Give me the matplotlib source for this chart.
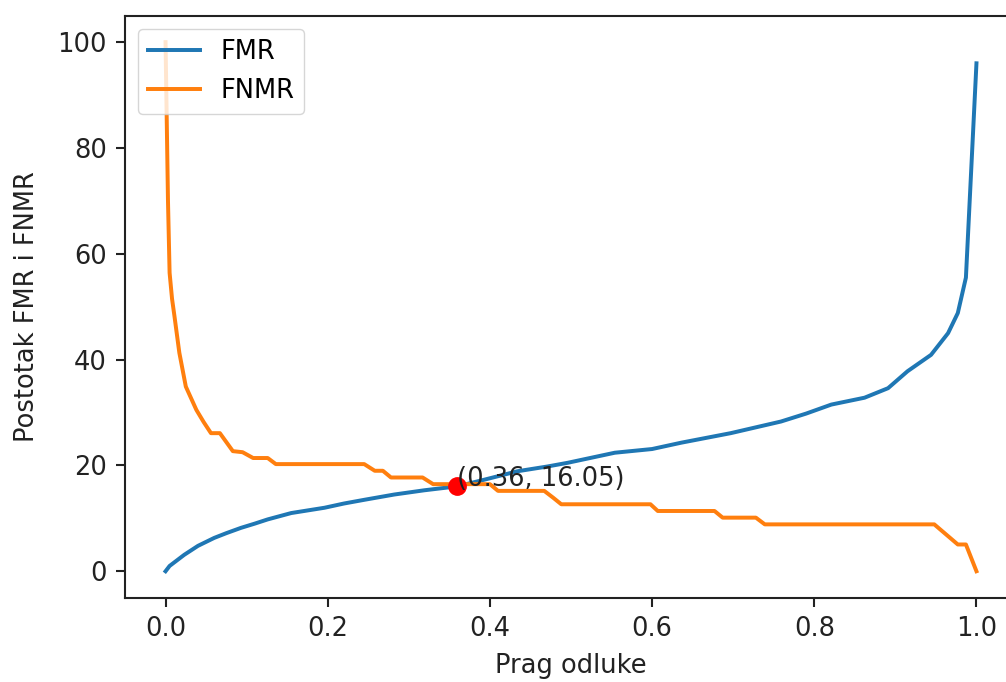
import matplotlib
matplotlib.use("Agg")
import matplotlib.pyplot as plt

# Threshold / FMR breakpoints
fmr_x = [0.0, 0.005, 0.023, 0.04, 0.06, 0.075, 0.093, 0.11, 0.126, 0.155, 0.196,
         0.22, 0.245, 0.282, 0.319, 0.36, 0.393, 0.434, 0.471, 0.496, 0.554, 0.60,
         0.636, 0.697, 0.759, 0.79, 0.821, 0.862, 0.891, 0.915, 0.944, 0.965,
         0.977, 0.987, 1.0]
fmr_y = [0.0, 1.0, 3.1, 4.8, 6.3, 7.2, 8.2, 9.0, 9.8, 11.0, 12.0,
         12.8, 13.5, 14.5, 15.3, 16.05, 17.3, 18.9, 19.8, 20.5, 22.4, 23.1,
         24.3, 26.1, 28.3, 29.8, 31.5, 32.8, 34.6, 37.8, 40.9, 45.0,
         48.8, 55.5, 96.0]

# Threshold / FNMR breakpoints
fnmr_x = [0.0, 0.0015, 0.003, 0.005, 0.008, 0.011, 0.017, 0.025, 0.038, 0.047,
          0.056, 0.067, 0.083, 0.095, 0.108, 0.126, 0.136, 0.245, 0.258, 0.268,
          0.278, 0.317, 0.33, 0.40, 0.41, 0.467, 0.478, 0.488, 0.598, 0.607,
          0.677, 0.687, 0.728, 0.739, 0.948, 0.977, 0.987, 1.0]
fnmr_y = [100.0, 85.0, 70.0, 56.4, 51.5, 48.2, 41.3, 34.9, 30.5, 28.2,
          26.1, 26.1, 22.7, 22.5, 21.4, 21.4, 20.25, 20.25, 18.99, 18.99,
          17.72, 17.72, 16.46, 16.46, 15.19, 15.19, 13.9, 12.66, 12.66, 11.39,
          11.39, 10.13, 10.13, 8.86, 8.86, 5.06, 5.06, 0.0]

eer_x = 0.36
eer_y = 16.05
eer_label = "(0.36, 16.05)"

FS = 18.5
plt.rcParams.update({
    "font.family": ["DejaVu Sans"],
    "font.size": FS,
    "axes.linewidth": 1.5,
    "xtick.major.size": 6.6,
    "ytick.major.size": 6.6,
    "xtick.major.width": 1.5,
    "ytick.major.width": 1.5,
    "xtick.major.pad": 6.6,
    "ytick.major.pad": 6.6,
})

fig = plt.figure(figsize=(10.06, 6.82), dpi=100)
ax = fig.add_axes([125 / 1006, (682 - 597.7) / 682, 892 / 1006, 582 / 682])

ax.plot(fmr_x, fmr_y, color="#1f77b4", lw=2.85, label="FMR")
ax.plot(fnmr_x, fnmr_y, color="#ff7f0e", lw=2.85, label="FNMR")
ax.plot([eer_x], [eer_y], "o", color="red", markersize=12.5)
ax.annotate(eer_label, (eer_x, eer_y), fontsize=FS, color="#222222")

ax.set_xlim(-0.05, 1.05)
ax.set_ylim(-5, 105)
ax.set_xticks([0.0, 0.2, 0.4, 0.6, 0.8, 1.0])
ax.set_yticks([0, 20, 40, 60, 80, 100])
ax.tick_params(labelsize=FS, colors="#222222", labelcolor="#222222")
ax.set_xlabel("Prag odluke", fontsize=FS, color="#222222", labelpad=7.6)
ax.set_ylabel("Postotak FMR i FNMR", fontsize=FS, color="#222222", labelpad=12)
for s in ax.spines.values():
    s.set_color("#222222")

leg = ax.legend(loc="upper left", fontsize=FS, framealpha=0.8,
                handlelength=2.0, borderpad=0.4)

fig.savefig("out.png", dpi=100)
